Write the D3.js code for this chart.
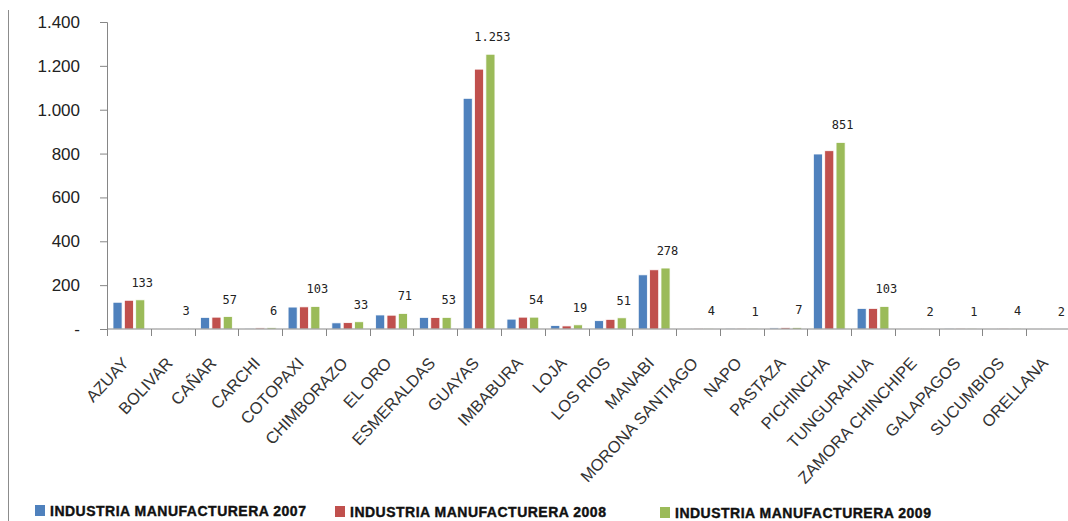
<!DOCTYPE html>
<html>
<head>
<meta charset="utf-8">
<style>
    body { margin: 0; background: #fff; }
    svg { display: block; }
    .y-axis text { font-family: 'Liberation Sans', Arial, sans-serif; font-size: 17px; fill: #222; }
    .x-label { font-family: 'Liberation Sans', Arial, sans-serif; font-size: 16.5px; fill: #333; }
    .data-label { font-family: 'DejaVu Sans Mono', monospace; font-size: 12px; fill: #222; }
    .legend text { font-family: 'Liberation Sans', Arial, sans-serif; font-size: 14px; font-weight: bold;
                   letter-spacing: 0.5px; fill: #111; stroke: #111; stroke-width: 0.4px; }
</style>
</head>
<body>
<svg width="1068" height="521"></svg>

<script src="https://d3js.org/d3.v7.min.js"></script>
<script>
    const provincias = ["AZUAY", "BOLIVAR", "CAÑAR", "CARCHI", "COTOPAXI", "CHIMBORAZO", "EL ORO",
        "ESMERALDAS", "GUAYAS", "IMBABURA", "LOJA", "LOS RIOS", "MANABI", "MORONA SANTIAGO", "NAPO",
        "PASTAZA", "PICHINCHA", "TUNGURAHUA", "ZAMORA CHINCHIPE", "GALAPAGOS", "SUCUMBIOS", "ORELLANA"];

    const series = ["INDUSTRIA MANUFACTURERA 2007", "INDUSTRIA MANUFACTURERA 2008", "INDUSTRIA MANUFACTURERA 2009"];

    const valores2007 = [122, 2, 53, 4, 100, 28, 64, 53, 1052, 45, 16, 38, 247, 3, 1, 5, 798, 94, 2, 1, 3, 2];
    const valores2008 = [131, 3, 54, 5, 101, 29, 63, 52, 1185, 54, 14, 44, 270, 4, 1, 6, 813, 94, 2, 1, 4, 2];
    const valores2009 = [133, 3, 57, 6, 103, 33, 71, 53, 1253, 54, 19, 51, 278, 4, 1, 7, 851, 103, 2, 1, 4, 2];

    const yTicks = [0, 200, 400, 600, 800, 1000, 1200, 1400];
    const colores = ["#4F81BD", "#C0504D", "#9BBB59"];

    const svg = d3.select("svg");
    const margin = { top: 22, left: 107, right: -2, bottom: 192 };
    const width = 1068, height = 521;

    // formato con punto de miles, como en el original
    const loc = d3.formatLocale({ decimal: ",", thousands: ".", grouping: [3], currency: ["$", ""] });
    const fmt = loc.format(",d");

    const tabla = provincias.map((p, i) => ({
        provincia: p,
        vals: [valores2007[i], valores2008[i], valores2009[i]]
    }));

    const x0 = d3.scaleBand()
        .domain(provincias)
        .range([margin.left, width - margin.right]);

    const x1 = d3.scaleBand()
        .domain(d3.range(series.length))
        .range([6, x0.bandwidth() - 6])
        .paddingInner(0.2);

    const y = d3.scaleLinear()
        .domain([0, 1400])
        .range([height - margin.bottom, margin.top]);

    // borde izquierdo del área del gráfico
    svg.append("line")
        .attr("x1", 8.5).attr("x2", 8.5)
        .attr("y1", 10).attr("y2", height)
        .attr("stroke", "#8c8c8c");

    // eje y
    const yAxis = svg.append("g")
        .attr("class", "y-axis")
        .attr("transform", `translate(${margin.left},0)`)
        .call(d3.axisLeft(y)
            .tickValues(yTicks)
            .tickSize(7)
            .tickPadding(20)
            .tickFormat(d => d === 0 ? "-" : fmt(d)));
    yAxis.selectAll("line, path").attr("stroke", "#868686");

    // barras
    const grupos = svg.append("g")
        .selectAll("g")
        .data(tabla)
        .join("g")
        .attr("transform", d => `translate(${x0(d.provincia)},0)`);

    grupos.selectAll("rect")
        .data(d => d.vals)
        .join("rect")
        .attr("x", (d, i) => x1(i))
        .attr("y", d => y(d))
        .attr("width", x1.bandwidth())
        .attr("height", d => y(0) - y(d))
        .attr("fill", (d, i) => colores[i])
        .attr("stroke", "#fff")
        .attr("stroke-width", 0.8);

    // etiquetas de datos (solo serie 2009)
    grupos.append("text")
        .attr("class", "data-label")
        .attr("x", x1(2) + x1.bandwidth() / 2 + 2)
        .attr("y", d => y(d.vals[2]) - 13)
        .attr("text-anchor", "middle")
        .text(d => fmt(d.vals[2]));

    // eje x
    const xAxis = svg.append("g")
        .attr("transform", `translate(0,${y(0)})`);
    xAxis.append("line")
        .attr("x1", margin.left).attr("x2", width)
        .attr("stroke", "#868686");
    xAxis.selectAll(".tick")
        .data(provincias)
        .join("line")
        .attr("x1", d => Math.round(x0(d)) + 0.5)
        .attr("x2", d => Math.round(x0(d)) + 0.5)
        .attr("y1", 0).attr("y2", 7)
        .attr("stroke", "#868686");

    svg.append("g")
        .selectAll("text")
        .data(provincias)
        .join("text")
        .attr("class", "x-label")
        .attr("text-anchor", "end")
        .attr("transform", d => `translate(${x0(d) + x0.bandwidth() / 2 + 1},${y(0) + 35}) rotate(-47)`)
        .text(d => d);

    // leyenda
    const legendPos = [[35, 516], [335, 517], [660, 518]];
    const legend = svg.append("g")
        .attr("class", "legend")
        .selectAll("g")
        .data(series)
        .join("g")
        .attr("transform", (d, i) => `translate(${legendPos[i][0]},${legendPos[i][1]})`);

    legend.append("rect")
        .attr("x", 0).attr("y", -11)
        .attr("width", 10).attr("height", 11)
        .attr("fill", (d, i) => colores[i]);

    legend.append("text")
        .attr("x", 15)
        .attr("y", 0)
        .text(d => d);
</script>
</body>
</html>
